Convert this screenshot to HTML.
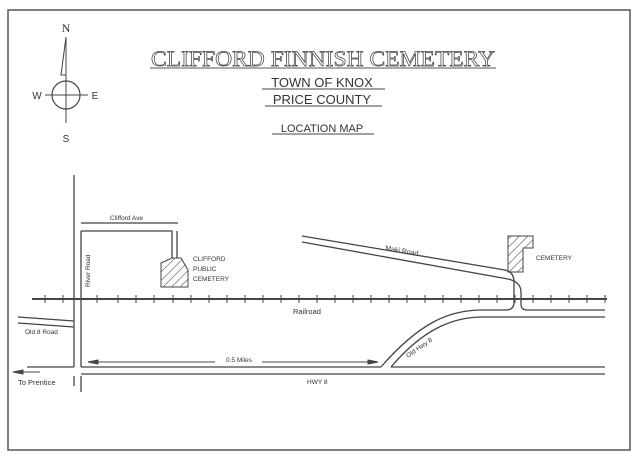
<!DOCTYPE html>
<html><head><meta charset="utf-8"><style>
html,body{margin:0;padding:0;background:#fff}
svg{display:block}
text{font-family:"Liberation Sans",sans-serif;fill:#333}
</style></head><body>
<svg width="642" height="458" viewBox="0 0 642 458" xmlns="http://www.w3.org/2000/svg">
<defs>
<pattern id="h" width="6" height="6" patternUnits="userSpaceOnUse" patternTransform="rotate(45)">
<line x1="0" y1="0" x2="0" y2="6" stroke="#444" stroke-width="1"/>
</pattern>
</defs>
<rect x="8" y="10" width="622" height="440" fill="#fff" stroke="#555" stroke-width="1.5"/>
<!-- compass -->
<text x="66" y="32" font-size="12" text-anchor="middle" style="font-family:'Liberation Serif',serif">N</text>
<line x1="66" y1="37" x2="66" y2="123" stroke="#444" stroke-width="1"/>
<polygon points="66,37 61,75 66,75" fill="none" stroke="#444" stroke-width="1"/>
<circle cx="66" cy="95" r="14" fill="none" stroke="#444" stroke-width="1.2"/>
<line x1="45" y1="95" x2="88" y2="95" stroke="#444" stroke-width="1"/>
<text x="37" y="99" font-size="10" text-anchor="middle">W</text>
<text x="95" y="99" font-size="10" text-anchor="middle">E</text>
<text x="66" y="142" font-size="10" text-anchor="middle">S</text>
<!-- title -->
<text x="323" y="66" text-anchor="middle" font-size="22" textLength="344" lengthAdjust="spacingAndGlyphs" style="font-family:'Liberation Serif',serif;fill:#fff;stroke:#444;stroke-width:0.7">CLIFFORD FINNISH CEMETERY</text>
<line x1="150" y1="68" x2="496" y2="68" stroke="#555" stroke-width="1"/>
<text x="322" y="87" text-anchor="middle" font-size="13">TOWN OF KNOX</text>
<line x1="262" y1="89" x2="385" y2="89" stroke="#444" stroke-width="1"/>
<text x="322" y="104" text-anchor="middle" font-size="13">PRICE COUNTY</text>
<line x1="265" y1="106" x2="382" y2="106" stroke="#444" stroke-width="1"/>
<text x="322" y="132" text-anchor="middle" font-size="11">LOCATION MAP</text>
<line x1="272" y1="134" x2="374" y2="134" stroke="#444" stroke-width="1"/>
<g fill="none" stroke="#444" stroke-width="1.3">
<line x1="74" y1="175" x2="74" y2="367"/>
<line x1="81" y1="223" x2="178" y2="223"/>
<path d="M81,231 L172,231 L172,258"/>
<line x1="177" y1="231" x2="177" y2="258"/>
<line x1="81" y1="231" x2="81" y2="367"/>
<line x1="18" y1="317" x2="74" y2="321"/>
<line x1="18" y1="323" x2="74" y2="327"/>
<line x1="27" y1="367" x2="74" y2="367"/>
<line x1="74" y1="376" x2="74" y2="386"/>
<line x1="81" y1="376" x2="81" y2="392"/>
<line x1="81" y1="367" x2="381" y2="367"/>
<line x1="391" y1="367" x2="605" y2="367"/>
<line x1="81" y1="374" x2="605" y2="374"/>
<path d="M381,367 C420,322 450,310 482,310 L506,310 Q514,310 514,302 L514,282 Q514,272 505,270 L302,236"/>
<path d="M391,367 C425,327 455,317 483,317 L605,317"/>
<path d="M302,242 L508,279 Q521,282 521,292 L521,304 Q521,310 527,310 L605,310"/>
</g>
<line x1="32" y1="299" x2="607" y2="299" stroke="#444" stroke-width="2"/>
<g stroke="#444" stroke-width="1">
<line x1="45" y1="295" x2="45" y2="303"/><line x1="63" y1="295" x2="63" y2="303"/><line x1="81" y1="295" x2="81" y2="303"/><line x1="97" y1="295" x2="97" y2="303"/><line x1="118" y1="295" x2="118" y2="303"/><line x1="136" y1="295" x2="136" y2="303"/><line x1="154" y1="295" x2="154" y2="303"/><line x1="173" y1="295" x2="173" y2="303"/><line x1="191" y1="295" x2="191" y2="303"/><line x1="209" y1="295" x2="209" y2="303"/><line x1="227" y1="295" x2="227" y2="303"/><line x1="245" y1="295" x2="245" y2="303"/><line x1="263" y1="295" x2="263" y2="303"/><line x1="281" y1="295" x2="281" y2="303"/><line x1="299" y1="295" x2="299" y2="303"/><line x1="317" y1="295" x2="317" y2="303"/><line x1="335" y1="295" x2="335" y2="303"/><line x1="353" y1="295" x2="353" y2="303"/><line x1="371" y1="295" x2="371" y2="303"/><line x1="389" y1="295" x2="389" y2="303"/><line x1="407" y1="295" x2="407" y2="303"/><line x1="425" y1="295" x2="425" y2="303"/><line x1="443" y1="295" x2="443" y2="303"/><line x1="461" y1="295" x2="461" y2="303"/><line x1="479" y1="295" x2="479" y2="303"/><line x1="497" y1="295" x2="497" y2="303"/><line x1="515" y1="295" x2="515" y2="303"/><line x1="533" y1="295" x2="533" y2="303"/><line x1="551" y1="295" x2="551" y2="303"/><line x1="569" y1="295" x2="569" y2="303"/><line x1="587" y1="295" x2="587" y2="303"/><line x1="605" y1="295" x2="605" y2="303"/>
</g>
<polygon points="161,263 172,258 181,258 188,270 188,287 161,287" fill="url(#h)" stroke="#444" stroke-width="1"/>
<polygon points="508,236 533,236 533,248 523,248 523,272 508,272" fill="url(#h)" stroke="#444" stroke-width="1"/>
<g stroke="#444" stroke-width="1" fill="#444">
<line x1="88" y1="362" x2="215" y2="362"/><line x1="262" y1="362" x2="378" y2="362"/>
<polygon points="88,362 98,360 98,364"/><polygon points="378,362 368,360 368,364"/>
<line x1="13" y1="372" x2="40" y2="372"/><polygon points="13,372 23,370 23,374"/>
</g>
<g font-size="6.5">
<text x="110" y="220">Clifford Ave</text>
<text x="193" y="261">CLIFFORD</text>
<text x="193" y="271">PUBLIC</text>
<text x="193" y="281">CEMETERY</text>
<text x="90" y="287" transform="rotate(-90 90 287)">River Road</text>
<text x="25" y="334">Old 8 Road</text>
<text x="293" y="314" font-size="7.5">Railroad</text>
<text x="226" y="362">0.5 Miles</text>
<text x="307" y="384">HWY 8</text>
<text x="18" y="385" font-size="7.5">To Prentice</text>
<text x="536" y="260">CEMETERY</text>
<text x="385" y="250" transform="rotate(10 385 250)" font-size="7">Maki Road</text>
<text x="408" y="358" transform="rotate(-35 408 358)">Old Hwy 8</text>
</g>
</svg>
</body></html>
